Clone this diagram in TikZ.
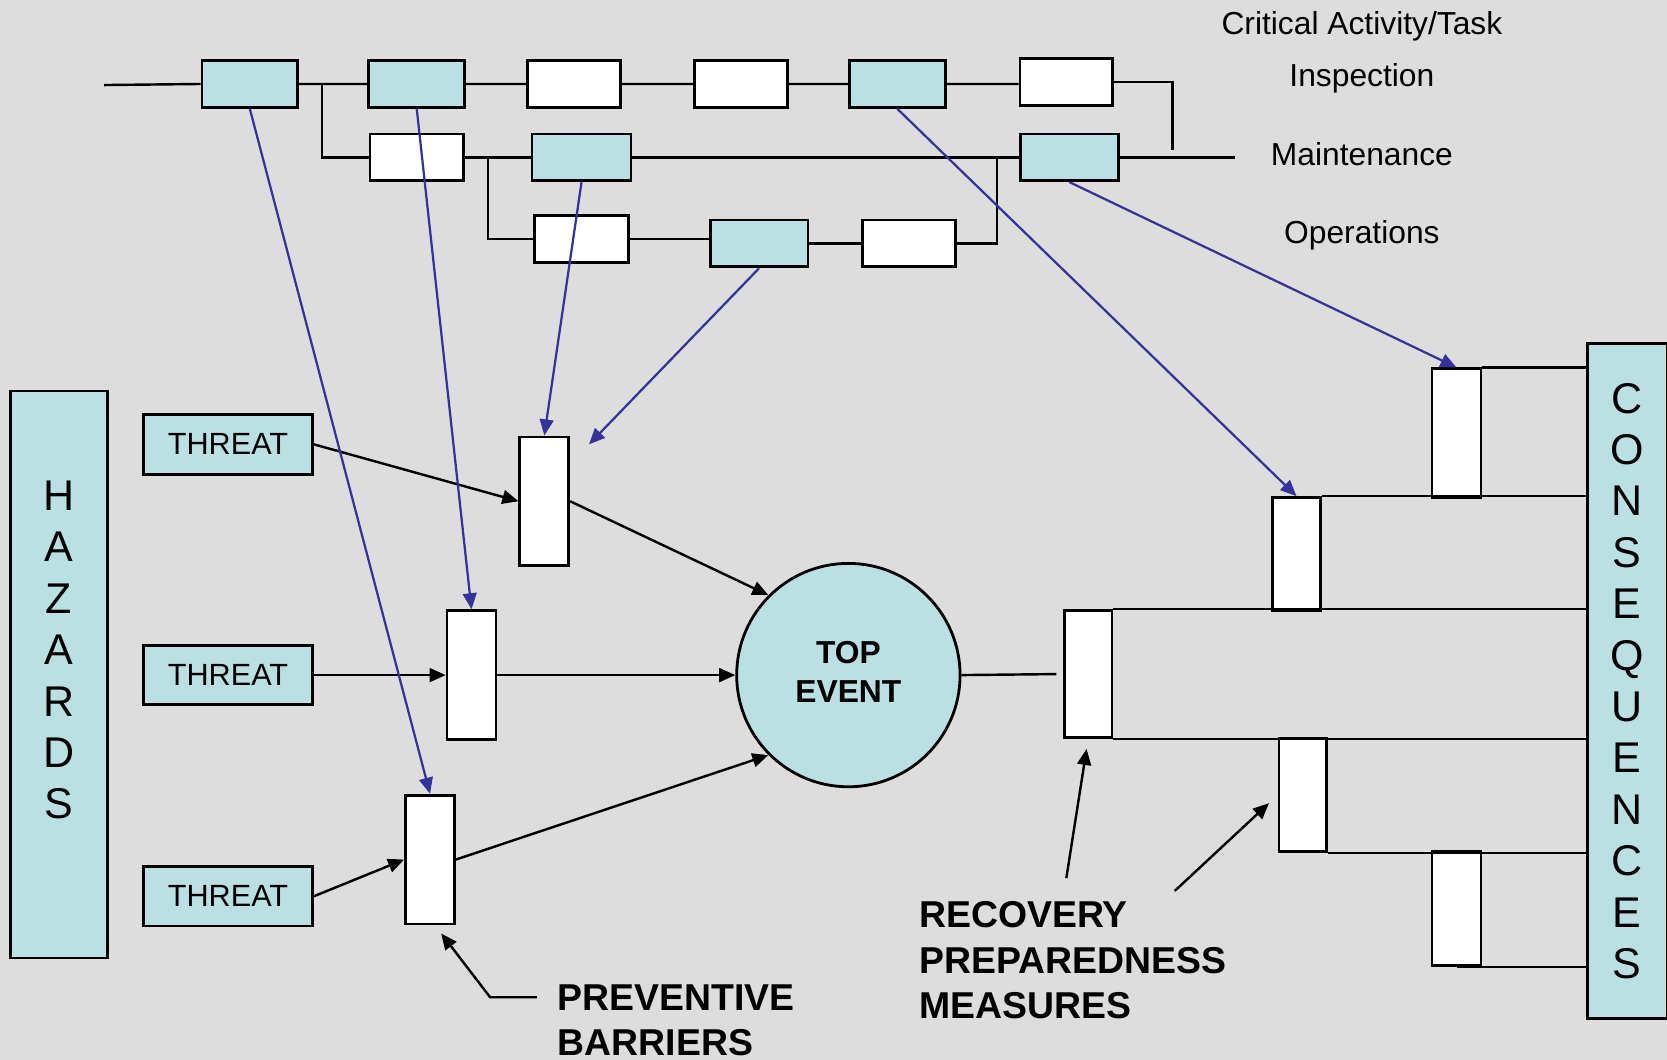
\documentclass[tikz,border=0pt]{standalone}
\usepackage{fontspec}
\setmainfont{Liberation Sans}
\usetikzlibrary{arrows.meta}
\definecolor{bggray}{RGB}{221,221,221}
\definecolor{taskcyan}{RGB}{186,224,227}
\definecolor{linkblue}{RGB}{51,51,153}
\tikzstyle{line} = [draw, line width=0.65pt, -{Triangle[length=4.3pt, width=3.7pt]}]
\tikzstyle{blueline} = [draw, color=linkblue, line width=0.6pt, -{Triangle[length=4.3pt, width=3.7pt]}]

\begin{document}
\begin{tikzpicture}[x=0.01cm, y=-0.01cm,
   task/.style={rectangle, draw, line width=0.75pt, fill=taskcyan, minimum width=0.9cm, minimum height=0.44cm, inner sep=0},
   blank/.style={task, fill=white},
   threat/.style={rectangle, draw, line width=0.75pt, fill=taskcyan, minimum width=1.59cm, minimum height=0.56cm, font=\fontsize{8.2}{10}\selectfont},
   barrier/.style={rectangle, draw, line width=0.75pt, fill=white, minimum width=0.46cm, minimum height=1.21cm, inner sep=0},
   wire/.style={line width=0.65pt},
   tasklabel/.style={font=\fontsize{8.5}{10}\selectfont, text height=6.2pt, text depth=0pt},
   bigcaps/.style={align=center, font=\fontsize{11.5}{13.75}\selectfont},
   boldnote/.style={align=left, anchor=north west, inner sep=0, font=\fontsize{10}{12.1}\selectfont\bfseries}]
\fill[bggray] (0,0) rectangle (1568,997);
\useasboundingbox (0,0) rectangle (1568,997);

% critical tasks
\node[task] (a1) at (235, 79) {};
\node[task] (a2) at (392, 79) {};
\node[blank, minimum width=0.87cm] (a3) at (540, 79) {};
\node[blank, minimum width=0.87cm] (a4) at (697, 79) {};
\node[task] (a5) at (844, 79) {};
\node[blank, minimum width=0.87cm] (a6) at (1003, 77) {};

\node[blank, minimum width=0.88cm] (b1) at (392, 148) {};
\node[task, minimum width=0.93cm] (b2) at (547, 148) {};
\node[task, minimum width=0.92cm] (b3) at (1006, 148) {};

\node[blank, minimum width=0.88cm] (c1) at (547, 225) {};
\node[task, minimum width=0.92cm] (c2) at (714, 229) {};
\node[blank, minimum width=0.88cm] (c3) at (855, 229) {};

\coordinate (istart) at (98, 80);
\coordinate (ibranch) at (303, 79);
\coordinate (mbranch) at (459, 148);
\coordinate (iendlow) at (1103, 141);
\coordinate (oend) at (938, 148);
\coordinate (mend) at (1162, 148);

\draw[wire] (istart) -- (a1.west) (a1.east) -- (a2.west) (a2.east) -- (a3.west)
	(a3.east) -- (a4.west) (a4.east) -- (a5.west) (a5.east) -- (a5.east -| a6.west);
\draw[wire] (ibranch) |- (b1.west);
\draw[wire] (a6.east) -| (iendlow);
\draw[wire] (b1.east) -- (b2.west) (b2.east) -- (b3.west) (b3.east) -- (mend);
\draw[wire] (mbranch) |- (c1.west);
\draw[wire] (c1.east) -- (c1.east -| c2.west) (c2.east) -- (c3.west) (c3.east) -| (oend);

\node[tasklabel] (crit) at (1281, 22) {Critical Activity/Task};
\node[tasklabel] (insp) at (1281, 70) {Inspection};
\node[tasklabel] (maint) at (1281, 145) {Maintenance};
\node[tasklabel] (oper) at (1281, 218) {Operations};

% hazards, threats and preventive barriers
\node[rectangle, draw, line width=0.75pt, fill=taskcyan, minimum width=0.91cm, minimum height=5.33cm] (hazards) at (55.5, 634.5) {};
\node[bigcaps] (hazardtxt) at (55.5, 611.5) {H\\A\\Z\\A\\R\\D\\S};

\node[threat] (t1) at (214.5, 418) {THREAT};
\node[threat] (t2) at (214.5, 635) {THREAT};
\node[threat] (t3) at (214.5, 843) {THREAT};

\node[barrier] (p1) at (512, 471.5) {};
\node[barrier] (p2) at (443.5, 635) {};
\node[barrier] (p3) at (404.5, 808.5) {};

\node[circle, draw, line width=0.75pt, fill=taskcyan, minimum size=2.1cm] (top) at (798, 635) {};
\node[align=center, font=\fontsize{8.5}{10.5}\selectfont\bfseries] (toptxt) at (798, 632) {TOP\\EVENT};

\path
	(t1.east) edge[line] (p1.west)
	(t2.east) edge[line] (p2.west)
	(t3.east) edge[line] (p3.west)
	(p1.east) edge[line] (top.135)
	(p2.east) edge[line] (top.west)
	(p3.east) edge[line] (top.225)
;

% recovery barriers and consequences
\node[rectangle, draw, line width=0.75pt, fill=taskcyan, minimum width=0.75cm, minimum height=6.35cm, bigcaps] (cons) at (1530.5, 640.5)
	{C\\O\\N\\S\\E\\Q\\U\\E\\N\\C\\E\\S};

\node[barrier, minimum width=0.45cm, minimum height=1.2cm] (r1) at (1023.5, 634) {};
\node[barrier, minimum width=0.45cm, minimum height=1.06cm] (r2) at (1219.5, 521) {};
\node[barrier, minimum height=1.21cm] (r3) at (1370, 407.5) {};
\node[barrier, minimum width=0.45cm, minimum height=1.06cm] (r4) at (1225.5, 748) {};
\node[barrier, minimum height=1.07cm] (r5) at (1370, 854.5) {};

\draw[wire, shorten >=1.7pt] (top.east) -- (r1.west);
\draw[wire] (r1.north east) -- (r1.north east -| cons.west);
\draw[wire] (r1.south east) -- (r1.south east -| cons.west);
\draw[wire] (r2.north east) -- (r2.north east -| cons.west);
\draw[wire] (r3.north east) -- (r3.north east -| cons.west);
\draw[wire] (r4.south east) -- (r4.south east -| cons.west);
\draw[wire] (r5.south) -- (r5.south -| cons.west);

% task links
\coordinate (c2end) at (554, 418);
\path
	(a1.south) edge[blueline] (p3.north)
	(a2.south) edge[blueline] (p2.north)
	(b2.south) edge[blueline] (p1.north)
	(c2.south) edge[blueline] (c2end)
	(a5.south) edge[blueline] (r2.north)
	(b3.south) edge[blueline] (r3.north)
;

% notes
\node[boldnote] (prevtxt) at (524, 925.5) {PREVENTIVE\\BARRIERS};
\node[boldnote] (recovtxt) at (864, 847.5) {RECOVERY\\PREPAREDNESS\\MEASURES};

\coordinate (pb1) at (505, 938);
\coordinate (pb2) at (461, 938);
\coordinate (pbend) at (415, 878);
\coordinate (rm1) at (1003, 826);
\coordinate (rm2) at (1105, 838);
\draw[line] (pb1) -- (pb2) -- (pbend);
\path
	(rm1) edge[line, shorten >=2.6pt] (r1.south)
	(rm2) edge[line, shorten >=3.1pt] (r4.west)
;

\end{tikzpicture}
\end{document}
